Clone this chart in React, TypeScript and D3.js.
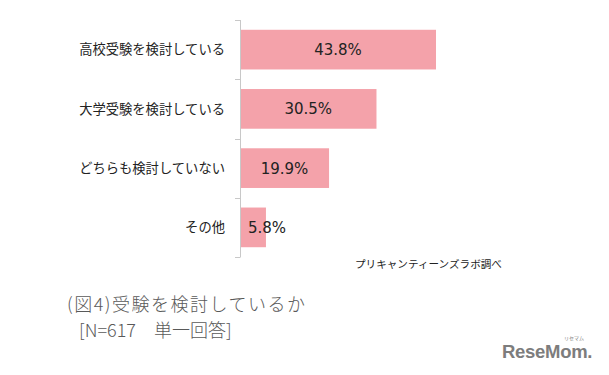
import React from "react";
import * as d3 from "d3";

const categories = ["高校受験を検討している", "大学受験を検討している", "どちらも検討していない", "その他"];
const values = [43.8, 30.5, 19.9, 5.8];
const valueLabels = ["43.8%", "30.5%", "19.9%", "5.8%"];
const titleLine1 = "(図4)受験を検討しているか";
const titleLine2 = "[N=617　単一回答]";
const sourceText = "プリキャンティーンズラボ調べ";

const W = 609;
const H = 375;
const FONT = "'Noto Sans CJK JP', 'Noto Sans', sans-serif";

export default function App() {
  const x0 = 240;
  const x = d3.scaleLinear().domain([0, 43.8]).range([x0, 436]);
  const y = d3.scaleBand<string>().domain(categories).range([20, 257]).paddingInner(0.33).paddingOuter(0.165);
  const tickYs = d3.range(categories.length + 1).map((i) => 20 + i * (237 / categories.length));

  return (
    <div style={{ position: "absolute", left: 0, top: 0, width: W, height: H, background: "#fff" }}>
      <svg width={W} height={H} style={{ display: "block" }}>
        <rect x={0} y={0} width={W} height={H} fill="#fff" />
        {categories.map((c, i) => {
          const by = y(c)!;
          const bw = x(values[i]) - x0;
          const cx = Math.max(x0 + bw / 2, x0 + 27);
          return (
            <g key={c}>
              <rect x={x0} y={by} width={bw} height={y.bandwidth()} fill="#F4A2AA" />
              <text x={cx} y={by + y.bandwidth() / 2} dy="0.36em" textAnchor="middle" fontSize={15} fontFamily="'DejaVu Sans', sans-serif" fill="#222">
                {valueLabels[i]}
              </text>
              <text x={225} y={by + y.bandwidth() / 2} dy="0.36em" textAnchor="end" fontSize={13.3} fontFamily={FONT} fill="#222">
                {c}
              </text>
            </g>
          );
        })}
        <line x1={x0 + 0.5} x2={x0 + 0.5} y1={20} y2={257} stroke="#c8c8c8" strokeWidth={1} />
        {tickYs.map((ty, i) => (
          <line key={i} x1={235} x2={x0 + 0.5} y1={Math.round(ty) + 0.5} y2={Math.round(ty) + 0.5} stroke="#c8c8c8" strokeWidth={1} />
        ))}
        <text x={355} y={264} dy="0.36em" fontSize={10.6} fontFamily={FONT} fill="#222">
          {sourceText}
        </text>
        <text x={67} y={305} dy="0.36em" fontSize={18} fontWeight={300} letterSpacing={1.5} fontFamily={FONT} fill="#595959">
          {titleLine1}
        </text>
        <text x={79} y={331} dy="0.36em" fontSize={18} fontWeight={300} fontFamily={FONT} fill="#595959">
          {titleLine2}
        </text>
        <text x={502} y={358} fontSize={18.5} fontWeight="bold" fontFamily="'Liberation Sans', Arial, sans-serif" fill="#7d7d7d" letterSpacing={-0.3}>
          ReseMom.
        </text>
        <text x={574} y={340} fontSize={5} fontFamily={FONT} fill="#7d7d7d" textAnchor="middle">
          リセマム
        </text>
      </svg>
    </div>
  );
}
